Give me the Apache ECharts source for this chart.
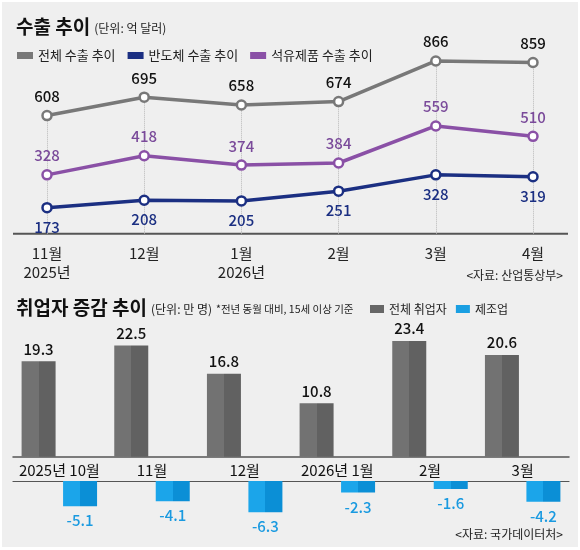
<!DOCTYPE html>
<html>
<head>
<meta charset="utf-8">
<script src="https://cdn.jsdelivr.net/npm/echarts@6/dist/echarts.min.js"></script>
<style>
  html, body { margin: 0; padding: 0; background: #fff; }
  #wrap { position: relative; width: 580px; height: 550px; }
  #main { width: 580px; height: 550px; }
  #frame { position: absolute; left: 0; top: 0; width: 580px; height: 550px; box-sizing: border-box;
           border: 2px solid #fff; border-bottom-width: 3px; pointer-events: none; }
</style>
</head>
<body>
<div id="wrap">
  <div id="main"></div>
  <div id="frame"></div>
</div>
<script>
// 수출 추이 (억 달러)
const exportMonths = ['11월\n2025년', '12월', '1월\n2026년', '2월', '3월', '4월']
const exportTotal = [608, 695, 658, 674, 866, 859]
const exportChip = [173, 208, 205, 251, 328, 319]
const exportOil = [328, 418, 374, 384, 559, 510]

// 취업자 증감 (만 명)
const jobMonths = ['2025년 10월', '11월', '12월', '2026년 1월', '2월', '3월']
const jobTotal = [19.3, 22.5, 16.8, 10.8, 23.4, 20.6]
const jobMfg = [-5.1, -4.1, -6.3, -2.3, -1.6, -4.2]

const FONT = '"Noto Sans CJK KR", "Noto Sans", sans-serif'
const GRAY = '#787878'
const NAVY = '#1b2f82'
const PURPLE = '#8a50a6'
const BLUE = '#1a9fe2'
const Y_BASE = 50

function twoTone (light, dark) {
  return {
    type: 'linear', x: 0, y: 0, x2: 1, y2: 0,
    colorStops: [
      { offset: 0, color: light }, { offset: 0.5, color: light },
      { offset: 0.5, color: dark }, { offset: 1, color: dark }
    ]
  }
}

function lineSeries (name, data, color, labelColor, pos) {
  return {
    name: name,
    type: 'line',
    xAxisIndex: 0,
    yAxisIndex: 0,
    data: data,
    symbol: 'circle',
    symbolSize: 9,
    lineStyle: { color: color, width: 3.5 },
    itemStyle: { color: '#fff', borderColor: color, borderWidth: 2.5 },
    label: {
      show: true, position: pos, distance: 6,
      color: labelColor, fontSize: 15, fontFamily: FONT, fontWeight: 500
    },
    z: 3
  }
}

const guideLines = exportTotal.map((v, i) => [{ coord: [i, Y_BASE] }, { coord: [i, v] }])

const chart = echarts.init(document.getElementById('main'))
const option = {
  backgroundColor: '#efefef',
  animation: false,
  textStyle: { fontFamily: FONT },
  title: [
    {
      left: 11, top: 12,
      text: '{a|수출 추이} {b|(단위: 억 달러)}',
      textStyle: {
        fontWeight: 'normal',
        rich: {
          a: { fontSize: 19, fontWeight: 'bold', color: '#111', fontFamily: FONT },
          b: { fontSize: 12, fontWeight: 'normal', color: '#222', fontFamily: FONT, padding: [3, 0, 0, 0] }
        }
      }
    },
    {
      right: 12, top: 264,
      text: '<자료: 산업통상부>',
      textStyle: { fontSize: 12, fontWeight: 'normal', color: '#222', fontFamily: FONT }
    },
    {
      left: 11, top: 293,
      text: '{a|취업자 증감 추이} {b|(단위: 만 명)} {c|*전년 동월 대비, 15세 이상 기준}',
      textStyle: {
        fontWeight: 'normal',
        rich: {
          a: { fontSize: 19, fontWeight: 'bold', color: '#111', fontFamily: FONT },
          b: { fontSize: 12, fontWeight: 'normal', color: '#222', fontFamily: FONT, padding: [3, 0, 0, 0] },
          c: { fontSize: 10.5, fontWeight: 'normal', color: '#222', fontFamily: FONT, padding: [3, 0, 0, 0] }
        }
      }
    },
    {
      right: 12, top: 523,
      text: '<자료: 국가데이터처>',
      textStyle: { fontSize: 12, fontWeight: 'normal', color: '#222', fontFamily: FONT }
    }
  ],
  legend: [
    {
      left: 12, top: 44,
      icon: 'rect', itemWidth: 16, itemHeight: 7, itemGap: 12,
      textStyle: { fontSize: 13, color: '#222', fontFamily: FONT },
      data: [
        { name: '전체 수출 추이', itemStyle: { color: GRAY, borderWidth: 0 } },
        { name: '반도체 수출 추이', itemStyle: { color: NAVY, borderWidth: 0 } },
        { name: '석유제품 수출 추이', itemStyle: { color: PURPLE, borderWidth: 0 } }
      ]
    },
    {
      right: 67, top: 298,
      icon: 'rect', itemWidth: 14, itemHeight: 8, itemGap: 9,
      textStyle: { fontSize: 12, color: '#222', fontFamily: FONT },
      data: [
        { name: '전체 취업자', itemStyle: { color: '#666' } },
        { name: '제조업', itemStyle: { color: BLUE } }
      ]
    }
  ],
  grid: [
    { left: 47, right: 47, top: 32.6, bottom: 316.3 },
    { left: 13, right: 11, top: 333.2, bottom: 93.3 },
    { left: 13, right: 11, top: 481, bottom: 29.4 }
  ],
  xAxis: [
    {
      gridIndex: 0, type: 'category', data: exportMonths, boundaryGap: false,
      axisLine: { show: false }, axisTick: { show: false },
      axisLabel: { margin: 10, fontSize: 15, lineHeight: 19, color: '#222', fontFamily: FONT }
    },
    {
      gridIndex: 1, type: 'category', data: jobMonths,
      axisLine: { lineStyle: { color: '#555', width: 1.5 } }, axisTick: { show: false },
      axisLabel: { interval: 0, margin: 6, fontSize: 15, color: '#111', fontFamily: FONT }
    },
    {
      gridIndex: 2, type: 'category', data: jobMonths, position: 'top',
      axisLine: { lineStyle: { color: '#555', width: 1.2 } }, axisTick: { show: false },
      axisLabel: { show: false }
    }
  ],
  yAxis: [
    { gridIndex: 0, type: 'value', min: Y_BASE, max: 1000, show: false },
    { gridIndex: 1, type: 'value', min: 0, max: 25, show: false },
    { gridIndex: 2, type: 'value', min: -8, max: 0, show: false }
  ],
  graphic: [
    {
      type: 'line', z: 1,
      shape: { x1: 13, y1: 233.7, x2: 568, y2: 233.7 },
      style: { stroke: '#555', lineWidth: 2 }
    }
  ],
  series: [
    Object.assign(lineSeries('전체 수출 추이', exportTotal, GRAY, '#111', 'top'), {
      markLine: {
        silent: true, symbol: 'none', label: { show: false },
        lineStyle: { color: '#b8b8b8', type: 'dotted', width: 1 },
        data: guideLines, z: 1
      }
    }),
    lineSeries('반도체 수출 추이', exportChip, NAVY, NAVY, 'bottom'),
    lineSeries('석유제품 수출 추이', exportOil, PURPLE, '#7a4a9a', 'top'),
    {
      name: '전체 취업자', type: 'bar', xAxisIndex: 1, yAxisIndex: 1,
      data: jobTotal, barWidth: 34, barGap: '22%',
      itemStyle: { color: twoTone('#727272', '#616161') },
      label: { show: true, position: 'top', distance: 5, fontSize: 15, color: '#111', fontFamily: FONT, fontWeight: 500 }
    },
    {
      type: 'bar', xAxisIndex: 1, yAxisIndex: 1,
      data: jobMfg.map(() => '-'), barWidth: 34, barGap: '22%'
    },
    {
      type: 'bar', xAxisIndex: 2, yAxisIndex: 2,
      data: jobTotal.map(() => '-'), barWidth: 34, barGap: '22%'
    },
    {
      name: '제조업', type: 'bar', xAxisIndex: 2, yAxisIndex: 2,
      data: jobMfg, barWidth: 34, barGap: '22%',
      itemStyle: { color: twoTone('#1ba5ea', '#0b8fd6') },
      label: { show: true, position: 'bottom', distance: 7, fontSize: 15, color: '#1a9ae0', fontFamily: FONT, fontWeight: 500 }
    }
  ]
}
chart.setOption(option)
window.addEventListener('resize', () => chart.resize())
</script>
</body>
</html>
